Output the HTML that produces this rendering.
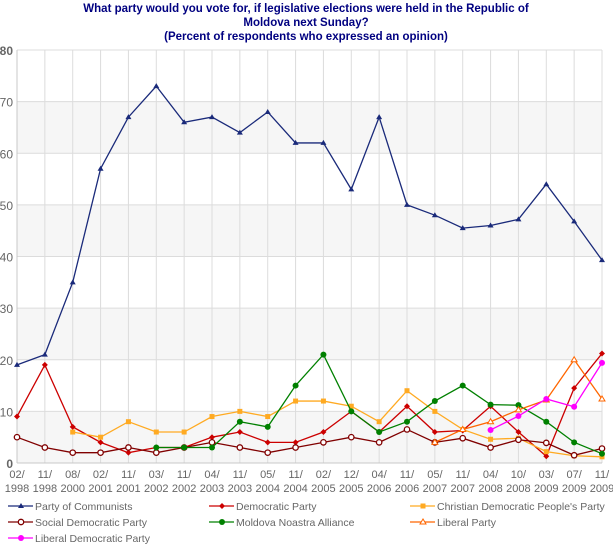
<!DOCTYPE html>
<html><head><meta charset="utf-8"><style>
body{margin:0;background:#fff;}
svg{display:block;font-family:"Liberation Sans",sans-serif;}
</style></head><body>
<svg id="s" width="613" height="548" xmlns="http://www.w3.org/2000/svg">
<text x="306" y="12" text-anchor="middle" font-size="11.5" font-weight="bold" fill="#000080">What party would you vote for, if legislative elections were held in the Republic of</text>
<text x="306" y="26" text-anchor="middle" font-size="11.5" font-weight="bold" fill="#000080">Moldova next Sunday?</text>
<text x="306" y="40" text-anchor="middle" font-size="11.5" font-weight="bold" fill="#000080">(Percent of respondents who expressed an opinion)</text>
</svg>
<script>
const s=document.getElementById('s'),NS='http://www.w3.org/2000/svg';
function el(t,a,txt){const e=document.createElementNS(NS,t);for(const k in a)e.setAttribute(k,a[k]);if(txt!=null)e.textContent=txt;s.appendChild(e);return e;}
const L=17,R=602,T=50,B=463;const X=i=>L+i*(R-L)/21,Y=v=>B-v*(B-T)/80;
for(let v=0;v<80;v+=20)el('rect',{x:L,y:Y(v+10),width:R-L,height:Y(v)-Y(v+10),fill:'#f6f6f6'});
for(let v=10;v<=80;v+=10)el('line',{x1:L,x2:R,y1:Y(v),y2:Y(v),stroke:'#dcdcdc'});
for(let i=1;i<22;i++)el('line',{x1:X(i),x2:X(i),y1:T,y2:B,stroke:'#dcdcdc'});
el('line',{x1:L,x2:L,y1:T,y2:B,stroke:'#c8c8c8'});el('line',{x1:L,x2:R,y1:B,y2:B,stroke:'#c8c8c8'});
for(let v=0;v<=80;v+=10)el('text',{x:13,y:Y(v)+5,'text-anchor':'end','font-size':'12',fill:'#666','font-weight':(v==0||v==80)?'bold':'normal'},v);
const lb=['02/1998','11/1998','08/2000','02/2001','11/2001','03/2002','11/2002','04/2003','11/2003','05/2004','11/2004','02/2005','12/2005','04/2006','11/2006','05/2007','11/2007','04/2008','10/2008','03/2009','07/2009','11/2009'];
lb.forEach((l,i)=>{const[a,b]=l.split('/');el('text',{x:X(i),y:478,'text-anchor':'middle','font-size':'11',fill:'#666'},a+'/');el('text',{x:X(i),y:492,'text-anchor':'middle','font-size':'11',fill:'#666'},b);});
const S=[
['Party of Communists','#1a2a7a','tri',0,[19,21,35,57,67,73,66,67,64,68,62,62,53,67,50,48,45.5,46,47.2,54,46.8,39.3]],
['Democratic Party','#cc0000','dia',0,[9,19,7,4,2,3,3,5,6,4,4,6,10,6,11,6,6.3,11,6,1.3,14.5,21.2]],
['Christian Democratic People\'s Party','#ffaa22','sq',2,[6,5,8,6,6,9,10,9,12,12,11,8,14,10,6.5,4.6,4.8,2.2,1.4,1.2]],
['Social Democratic Party','#800000','circ',0,[5,3,2,2,3,2,3,4,3,2,3,4,5,4,6.5,4,4.8,3,4.5,3.9,1.5,2.8]],
['Moldova Noastra Alliance','#008000','dot',5,[3,3,3,8,7,15,21,10,6,8,12,15,11.3,11.2,8,4,1.8]],
['Liberal Party','#ff6600','otri',15,[4,6.5,8,10.3,12.2,20,12.4]],
['Liberal Democratic Party','#ff00ff','dot',17,[6.4,9.1,12.4,10.9,19.4]]];
function mk(t,x,y,c){
 if(t=='tri')el('polygon',{points:`${x},${y-3} ${x-3},${y+2} ${x+3},${y+2}`,fill:c});
 else if(t=='otri')el('polygon',{points:`${x},${y-3} ${x-3},${y+2} ${x+3},${y+2}`,fill:'#fff',stroke:c});
 else if(t=='dia')el('polygon',{points:`${x},${y-3} ${x+3},${y} ${x},${y+3} ${x-3},${y}`,fill:c});
 else if(t=='sq')el('rect',{x:x-2.5,y:y-2.5,width:5,height:5,fill:c});
 else if(t=='circ')el('circle',{cx:x,cy:y,r:2.7,fill:'#fff',stroke:c,'stroke-width':1.3});
 else el('circle',{cx:x,cy:y,r:3,fill:c});
}
S.forEach(([n,c,t,o,d])=>{const p=d.map((v,i)=>[X(i+o),Y(v)]);
 el('polyline',{points:p.map(q=>q.join(',')).join(' '),fill:'none',stroke:c,'stroke-width':1.3});
 p.forEach(q=>mk(t,q[0],q[1],c));});
const lg=[[0,8,506],[1,209,506],[2,410,506],[3,8,522],[4,209,522],[5,410,522],[6,8,538]];
lg.forEach(([k,x,y])=>{const[n,c,t]=S[k];el('line',{x1:x,x2:x+25,y1:y,y2:y,stroke:c,'stroke-width':1.3});mk(t,x+13,y,c);
 el('text',{x:x+27,y:y+4,'font-size':'10.5',fill:'#666'},n);});
</script>
</body></html>
